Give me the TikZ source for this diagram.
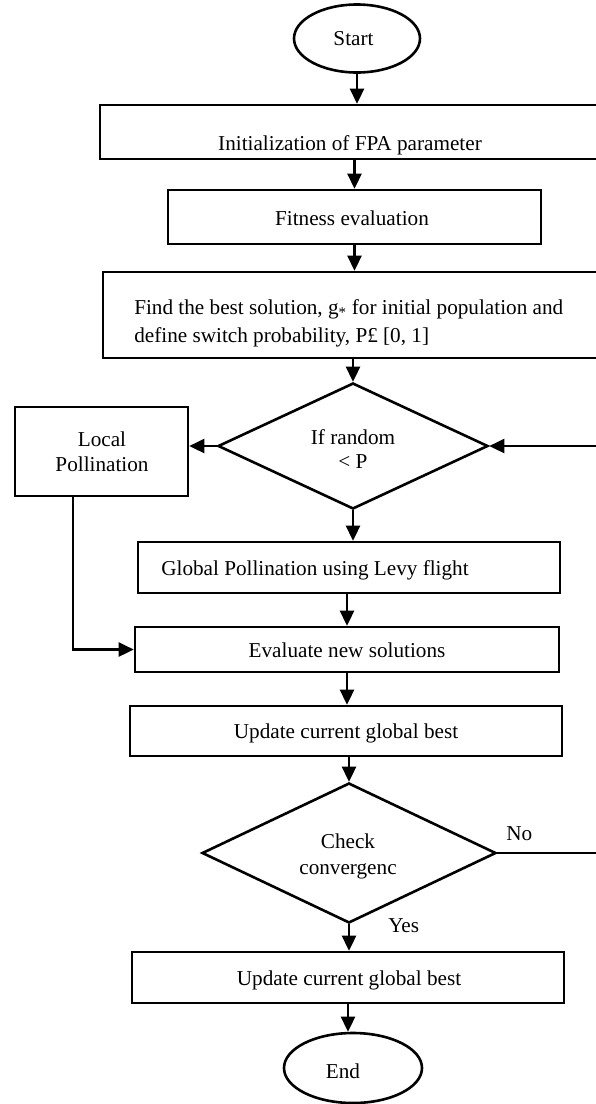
\documentclass[tikz,border=0pt]{standalone}
\usepackage{fontspec}
\setmainfont{Liberation Serif}
\usetikzlibrary{shapes.geometric,arrows.meta,calc}
\begin{document}
\begin{tikzpicture}[x=1pt,y=-1pt,line width=2.6pt,
  box/.style={draw,rectangle,inner sep=0pt,line width=2.6pt},
  term/.style={draw,ellipse,inner sep=0pt,line width=2.6pt},
  dec/.style={draw,diamond,inner sep=0pt,line width=2.6pt},
  txt/.style={font=\fontsize{21.2}{25}\selectfont,inner sep=0pt},
  arr/.style={-{Triangle[length=15pt,width=14pt]},line width=2.6pt}]
\useasboundingbox (0,0) rectangle (596,1104);
\clip (0,0) rectangle (596,1104);
% shapes
\node[term,minimum width=126pt,minimum height=68pt] (start) at (357,38.5) {};
\node[box,minimum width=500pt,minimum height=54pt] (b1) at (350,132) {};
\node[box,minimum width=373pt,minimum height=54pt] (b2) at (354.5,217) {};
\node[box,minimum width=497pt,minimum height=86pt] (b3) at (351.5,315) {};
\node[dec,minimum width=270pt,minimum height=126pt] (d1) at (353,446) {};
\node[box,minimum width=173pt,minimum height=89pt] (loc) at (101.5,451.5) {};
\node[box,minimum width=422pt,minimum height=51pt] (glob) at (349,567.5) {};
\node[box,minimum width=424pt,minimum height=45pt] (eval) at (347,649.5) {};
\node[box,minimum width=432pt,minimum height=50pt] (up1) at (346,731) {};
\node[dec,minimum width=294pt,minimum height=140pt] (d2) at (349,853) {};
\node[box,minimum width=432pt,minimum height=51pt] (up2) at (348,977.5) {};
\node[term,minimum width=138pt,minimum height=70pt] (end) at (353,1068) {};
% texts
\node[txt,anchor=base] (t0) at (353.5,45) {Start};
\node[txt,anchor=base] (t1) at (350,150) {Initialization of FPA parameter};
\node[txt,anchor=base] (t2) at (352,225) {Fitness evaluation};
\node[txt,anchor=west,align=left,font=\fontsize{21.2}{28}\selectfont] (t3) at (133,323)
  {Find the best solution, g\textsubscript{*} for initial population and\\define switch probability, P£ [0, 1]};
\node[txt,align=center] (t4) at (102,452) {Local\\Pollination};
\node[txt,align=center,font=\fontsize{21.2}{24}\selectfont] (t5) at (353,449) {If random\\< P};
\node[txt,anchor=base west] (t6) at (160,575) {Global Pollination using Levy flight};
\node[txt,anchor=base] (t7) at (347,657) {Evaluate new solutions};
\node[txt,anchor=base] (t8) at (346,738) {Update current global best};
\node[txt,align=center,font=\fontsize{21.2}{26}\selectfont] (t9) at (348,856) {Check\\convergenc};
\node[txt,anchor=base] (t10) at (349,985) {Update current global best};
\node[txt,anchor=base] (t11) at (343,1078) {End};
\node[txt,anchor=base west] (no) at (505,840) {No};
\node[txt,anchor=base west] (yes) at (387,932) {Yes};
% connectors
\draw[arr] (start.south) -- (start.south |- b1.north);
\draw[arr] (b1.south -| b2.north) -- (b2.north);
\draw[arr] (b2.south) -- (b2.south |- b3.north);
\draw[arr] (b3.south -| d1.north) -- (d1.north);
\draw[arr] (d1.west) -- (d1.west -| loc.east);
\draw[arr] (d1.south) -- (d1.south |- glob.north);
\draw[arr] (glob.south -| eval.north) -- (eval.north);
\coordinate (lp) at ([xshift=-28.5pt]loc.south);
\draw[arr] (lp) |- (eval.west);
\draw[arr] (eval.south) -- (eval.south |- up1.north);
\draw[arr] (up1.south -| d2.north) -- (d2.north);
\draw[arr] (d2.east) -- ++(110,0) |- (d1.east);
\draw[arr] (d2.south) -- (d2.south |- up2.north);
\draw[arr] (up2.south) -- (up2.south |- end.north);
\end{tikzpicture}
\end{document}
